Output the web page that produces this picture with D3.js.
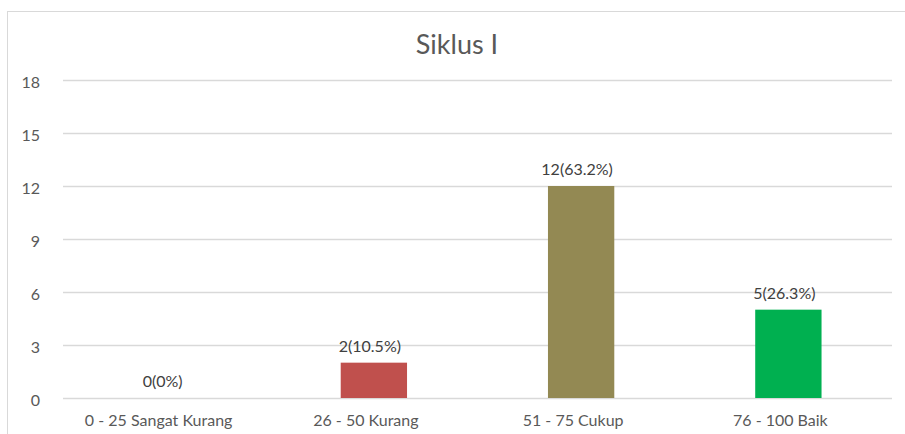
<!DOCTYPE html>
<html>
<head>
<meta charset="utf-8">
<title>Siklus I</title>
<script src="https://d3js.org/d3.v7.min.js"></script>
<style>
  body { margin: 0; background: #fff; }
  text { font-family: Lato, "Open Sans", sans-serif; }
</style>
</head>
<body>
<script>
var categories = ["0 - 25 Sangat Kurang", "26 - 50 Kurang", "51 - 75 Cukup", "76 - 100 Baik"];
var counts = [0, 2, 12, 5];
var percents = ["0%", "10.5%", "63.2%", "26.3%"];
var colors = ["#4F81BD", "#C0504D", "#938953", "#00B050"];
var yTicks = [0, 3, 6, 9, 12, 15, 18];

var w = 905, h = 434;
var plotLeft = 63, plotRight = 892, plotTop = 80, plotBottom = 398;

var svg = d3.select("body").append("svg")
    .attr("width", w)
    .attr("height", h);

// chart border (only top and left visible in the crop)
svg.append("rect")
    .attr("x", 7.5).attr("y", 11.5)
    .attr("width", 910).attr("height", 440)
    .attr("fill", "none")
    .attr("stroke", "#d9d9d9");

var x = d3.scaleBand()
    .domain(categories)
    .range([plotLeft, plotRight])
    .paddingInner(0.68)
    .paddingOuter(0.34);

var y = d3.scaleLinear()
    .domain([0, 18])
    .range([plotBottom, plotTop]);

// gridlines + y labels
var yAxis = svg.append("g")
    .attr("transform", "translate(" + plotLeft + ",0)")
    .call(d3.axisLeft(y).tickValues(yTicks).tickSize(-(plotRight - plotLeft)).tickPadding(23));
yAxis.select(".domain").remove();
yAxis.selectAll("line").attr("stroke", "#d9d9d9").attr("stroke-width", 1.3);
yAxis.selectAll("text")
    .attr("fill", "#595959")
    .attr("font-size", 16)
    .attr("dy", "0.45em");

// x labels (sit a little left of the bar centres, as in the original)
var xAxis = svg.append("g")
    .attr("transform", "translate(-8," + plotBottom + ")")
    .call(d3.axisBottom(x).tickSize(0).tickPadding(17));
xAxis.select(".domain").remove();
xAxis.selectAll("text")
    .attr("fill", "#595959")
    .attr("font-size", 16);

// bars
svg.selectAll("rect.bar")
    .data(counts)
    .enter()
    .append("rect")
    .attr("class", "bar")
    .attr("x", function(d, i) { return x(categories[i]); })
    .attr("y", function(d) { return y(d); })
    .attr("width", x.bandwidth())
    .attr("height", function(d) { return plotBottom - y(d); })
    .attr("fill", function(d, i) { return colors[i]; });

// value labels
svg.selectAll("text.val")
    .data(counts)
    .enter()
    .append("text")
    .attr("class", "val")
    .attr("x", function(d, i) { return x(categories[i]) + x.bandwidth() / 2 - 4; })
    .attr("y", function(d) { return y(d) - 11; })
    .attr("text-anchor", "middle")
    .attr("font-size", 16)
    .attr("fill", "#404040")
    .text(function(d, i) { return d + "(" + percents[i] + ")"; });

// title
svg.append("text")
    .attr("x", 457)
    .attr("y", 54)
    .attr("text-anchor", "middle")
    .attr("font-size", 27)
    .attr("fill", "#595959")
    .text("Siklus I");
</script>
</body>
</html>
